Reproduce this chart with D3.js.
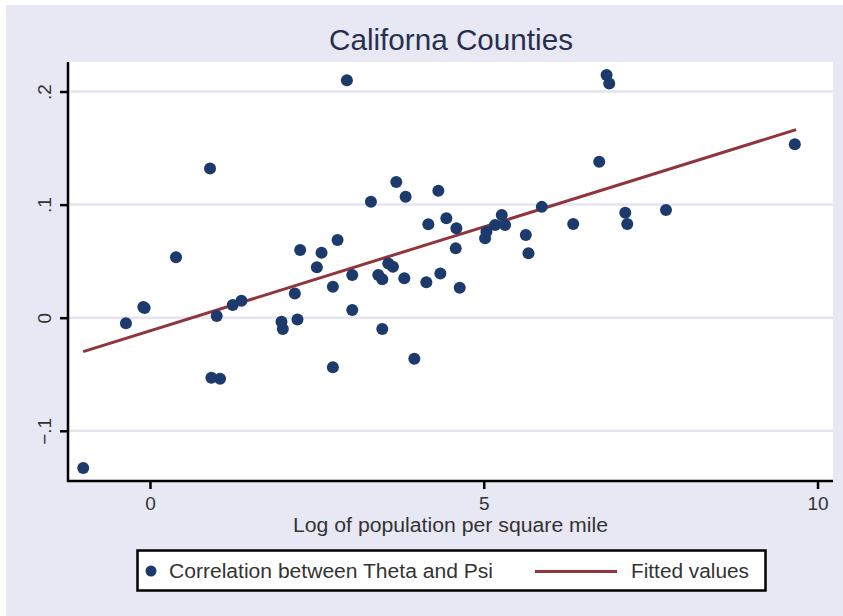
<!DOCTYPE html>
<html><head><meta charset="utf-8">
<script src="https://cdn.jsdelivr.net/npm/d3@7"></script>
<style>html,body{margin:0;padding:0;background:#fff;}svg{display:block;font-family:"Liberation Sans",Arial,sans-serif;}</style>
</head><body>
<script>
const titleText = "Californa Counties";
const xLabel = "Log of population per square mile";
const seriesName = "Correlation between Theta and Psi";
const fitName = "Fitted values";
const xTicks = [0, 5, 10];
const xTickLabels = ["0", "5", "10"];
const yTicks = [-0.1, 0, 0.1, 0.2];
const yTickLabels = ["\u2212.1", "0", ".1", ".2"];
const logDensity = [-1.00, -0.36, -0.08, -0.10, 0.39, 0.90, 0.92, 1.05, 1.00, 1.24, 1.37, 1.97, 1.99, 2.21, 2.17, 2.50, 2.25, 2.57, 2.81, 2.74, 2.74, 3.03, 3.03, 2.95, 3.31, 3.69, 3.83, 3.42, 3.48, 3.57, 3.64, 3.48, 3.81, 3.96, 4.14, 4.35, 4.17, 4.32, 4.44, 4.59, 4.58, 4.64, 5.02, 5.04, 5.17, 5.27, 5.32, 5.87, 5.63, 5.67, 6.34, 6.73, 6.84, 6.88, 7.12, 7.15, 7.73, 9.66];
const correlation = [-0.133, -0.005, 0.0085, 0.0095, 0.0535, 0.132, -0.053, -0.054, 0.0015, 0.0112, 0.015, -0.0035, -0.010, -0.0015, 0.0215, 0.0446, 0.0599, 0.0575, 0.0687, 0.0274, -0.0439, 0.0068, 0.0378, 0.210, 0.1026, 0.120, 0.107, 0.0378, 0.034, 0.048, 0.045, -0.010, 0.0348, -0.0362, 0.0313, 0.039, 0.0826, 0.1123, 0.0879, 0.079, 0.0613, 0.0265, 0.0702, 0.076, 0.082, 0.0908, 0.082, 0.098, 0.0731, 0.0569, 0.0828, 0.138, 0.2146, 0.207, 0.0928, 0.0828, 0.0952, 0.1533];
const fitX = [-1.00, 9.68];
const fitY = [-0.0300, 0.1663];

const W = 843, H = 616;
const svg = d3.select("body").append("svg").attr("width", W).attr("height", H);
const bg = "#e8e8f4", navy = "#1c3a6c", maroon = "#90353b", ink = "#333333";

svg.append("rect").attr("x", 6).attr("y", 5).attr("width", W - 6).attr("height", H - 5).attr("fill", bg);

const x = d3.scaleLinear().domain([-1.228, 10.232]).range([68, 833]);
const y = d3.scaleLinear().domain([-0.1444, 0.2261]).range([481, 62]);

// plot region
svg.append("rect").attr("x", 68).attr("y", 62).attr("width", 833 - 68).attr("height", 481 - 62).attr("fill", "#fff");

// gridlines
svg.append("g").selectAll("line").data(yTicks).join("line")
  .attr("x1", 68).attr("x2", 833).attr("y1", d => y(d)).attr("y2", d => y(d))
  .attr("stroke", "#e4e4f2").attr("stroke-width", 2.5);

// fitted line
svg.append("path")
  .datum(fitX.map((v, i) => [v, fitY[i]]))
  .attr("d", d3.line().x(d => x(d[0])).y(d => y(d[1])))
  .attr("stroke", maroon).attr("stroke-width", 3).attr("fill", "none");

// points
svg.append("g").selectAll("circle").data(logDensity.map((v, i) => [v, correlation[i]])).join("circle")
  .attr("cx", d => x(d[0])).attr("cy", d => y(d[1])).attr("r", 6).attr("fill", navy);

// axes
const yAxis = svg.append("g").attr("transform", "translate(68,0)")
  .call(d3.axisLeft(y).tickValues(yTicks).tickSize(8).tickFormat((d, i) => yTickLabels[i]));
yAxis.select(".domain").attr("d", `M0,${y.range()[1]}V${y.range()[0] + 1}`).attr("stroke", "#000").attr("stroke-width", 2.5);
yAxis.selectAll(".tick line").attr("stroke", "#000").attr("stroke-width", 2.5);
yAxis.selectAll(".tick text")
  .attr("x", null).attr("dy", null)
  .attr("transform", "translate(-17,0) rotate(-90)")
  .attr("text-anchor", "middle").attr("font-size", 19).attr("fill", ink)
  .attr("font-family", "'Liberation Sans', Arial, sans-serif");

const xAxis = svg.append("g").attr("transform", "translate(0,481)")
  .call(d3.axisBottom(x).tickValues(xTicks).tickSize(8).tickFormat((d, i) => xTickLabels[i]));
xAxis.select(".domain").attr("d", `M${x.range()[0] - 1},0H${x.range()[1]}`).attr("stroke", "#000").attr("stroke-width", 2.5);
xAxis.selectAll(".tick line").attr("stroke", "#000").attr("stroke-width", 2.5);
xAxis.selectAll(".tick text")
  .attr("y", 29).attr("dy", null)
  .attr("font-size", 19).attr("fill", ink)
  .attr("font-family", "'Liberation Sans', Arial, sans-serif");

// title
svg.append("text").attr("x", 451).attr("y", 50).attr("text-anchor", "middle")
  .attr("font-size", 29).attr("fill", "#26304e")
  .attr("textLength", 244).attr("lengthAdjust", "spacingAndGlyphs").text(titleText);

// x label
svg.append("text").attr("x", 450.5).attr("y", 531.5).attr("text-anchor", "middle")
  .attr("font-size", 20).attr("fill", ink)
  .attr("textLength", 315).attr("lengthAdjust", "spacingAndGlyphs").text(xLabel);

// legend
const lg = svg.append("g");
lg.append("rect").attr("x", 137.5).attr("y", 550.5).attr("width", 628).attr("height", 40)
  .attr("fill", "#fff").attr("stroke", "#000").attr("stroke-width", 2.5);
lg.append("circle").attr("cx", 151).attr("cy", 571).attr("r", 5.5).attr("fill", navy);
lg.append("text").attr("x", 169).attr("y", 577.5).attr("font-size", 20).attr("fill", ink)
  .attr("textLength", 324).attr("lengthAdjust", "spacingAndGlyphs").text(seriesName);
lg.append("line").attr("x1", 535).attr("x2", 617).attr("y1", 571.5).attr("y2", 571.5)
  .attr("stroke", maroon).attr("stroke-width", 3);
lg.append("text").attr("x", 631).attr("y", 577.5).attr("font-size", 20).attr("fill", ink)
  .attr("textLength", 118).attr("lengthAdjust", "spacingAndGlyphs").text(fitName);
</script>
</body></html>
